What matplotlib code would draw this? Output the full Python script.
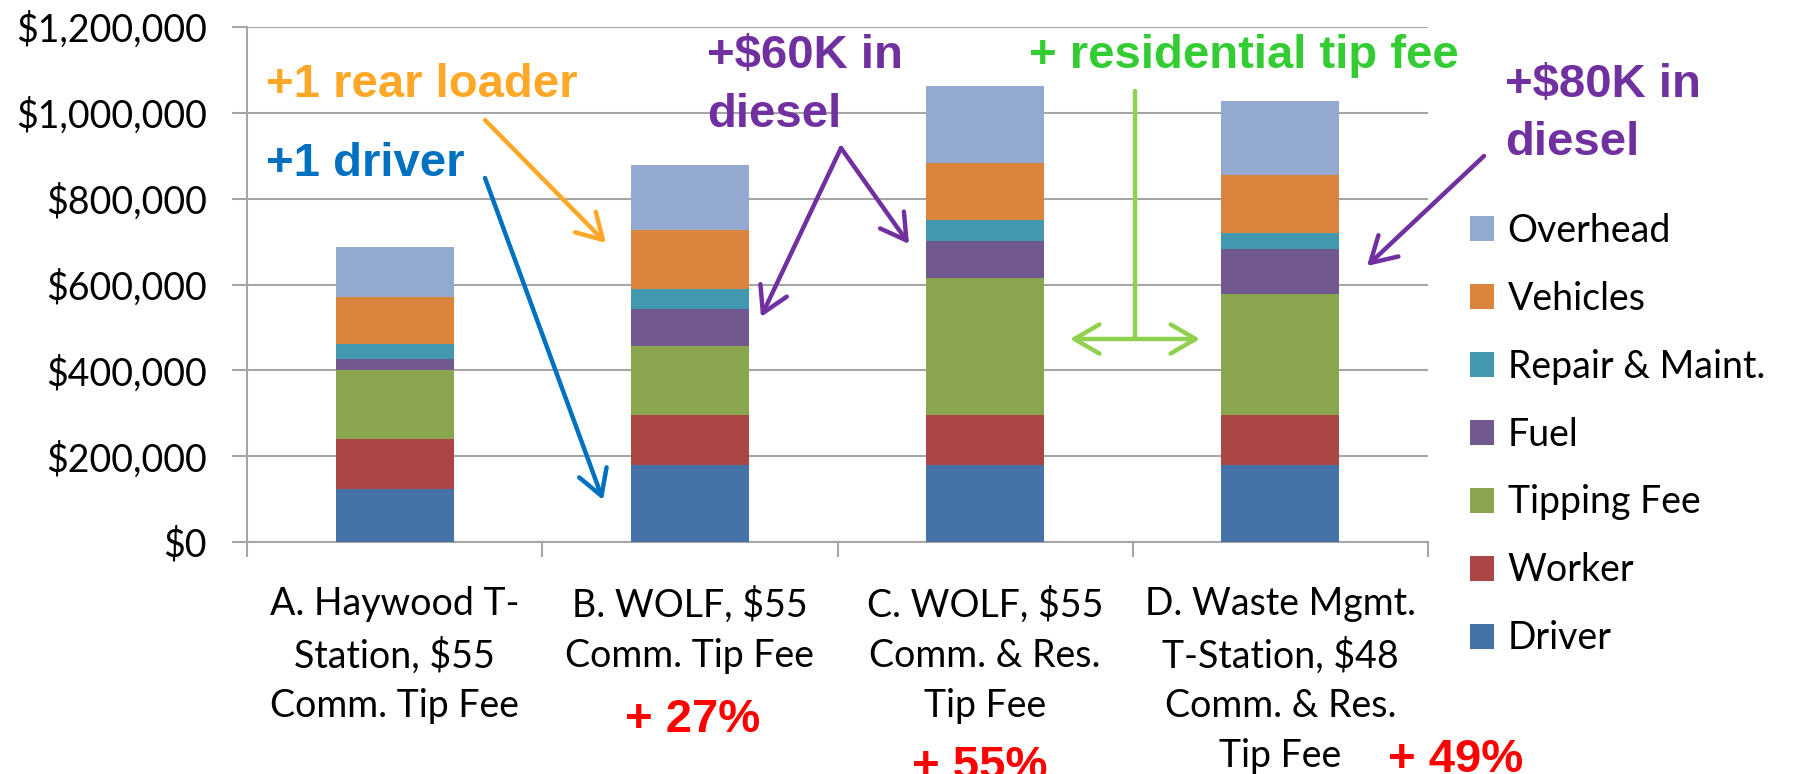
import matplotlib.pyplot as plt
from matplotlib.ticker import FuncFormatter

# %%
categories = ["A. Haywood T-\nStation, $55\nComm. Tip Fee",
              "B. WOLF, $55\nComm. Tip Fee",
              "C. WOLF, $55\nComm. & Res.\nTip Fee",
              "D. Waste Mgmt.\nT-Station, $48\nComm. & Res.\nTip Fee"]

driver = [123000, 180000, 180000, 180000]
worker = [117000, 116000, 116000, 116000]
tipping_fee = [161000, 161000, 320000, 281000]
fuel = [26000, 87000, 85000, 105000]
repair = [34000, 46000, 49000, 38000]
vehicles = [109000, 136000, 134000, 135000]
overhead = [117000, 152000, 179000, 172000]

series_names = ["Driver", "Worker", "Tipping Fee", "Fuel",
                "Repair & Maint.", "Vehicles", "Overhead"]
series_colors = ["#4572A7", "#AA4643", "#89A54E", "#71588F",
                 "#4198AF", "#DB843D", "#93A9CF"]

increase_labels = ["+ 27%", "+ 55%", "+ 49%"]

# %%
W, H = 1801, 774


def fpx(x, y):
    # pixel (from top-left) -> figure fraction
    return (x / W, 1 - y / H)


plt.rcParams['font.family'] = ['Lato', 'DejaVu Sans']
fig = plt.figure(figsize=(W / 100, H / 100), dpi=100)
ax = fig.add_axes([247 / W, 1 - 542 / H, (1428 - 247) / W, (542 - 27) / H])

values = [driver, worker, tipping_fee, fuel, repair, vehicles, overhead]
x = range(len(categories))
bottom = [0] * len(categories)
bars = []
for name, vals, col in zip(series_names, values, series_colors):
    b = ax.bar(x, vals, 0.4, bottom=bottom, color=col, label=name, zorder=3)
    bars.append(b)
    bottom = [a + v for a, v in zip(bottom, vals)]

ax.set_xlim(-0.5, 3.5)
ax.set_ylim(0, 1200000)
ax.set_yticks(range(0, 1200001, 200000))
ax.yaxis.set_major_formatter(FuncFormatter(lambda v, p: f"${v:,.0f}"))
ax.grid(axis='y', color='#A6A6A6', lw=1.5, zorder=0)
for s in ['top', 'right']:
    ax.spines[s].set_visible(False)
for s in ['left', 'bottom']:
    ax.spines[s].set_color('#A6A6A6')
    ax.spines[s].set_linewidth(1.5)

ax.tick_params(axis='y', length=11, width=1.5, color='#A6A6A6', pad=18, labelsize=27)
ax.set_xticks(list(x))
ax.set_xticklabels(categories, linespacing=1.48)
ax.tick_params(axis='x', which='major', length=0, pad=32, labelsize=27)
ax.set_xticks([-0.5, 0.5, 1.5, 2.5, 3.5], minor=True)
ax.tick_params(axis='x', which='minor', length=11, width=1.5, color='#A6A6A6')

fig.legend(handles=bars[::-1], loc='upper left', bbox_to_anchor=fpx(1470, 213),
           frameon=False, fontsize=27, handlelength=0.65, handleheight=0.65,
           handletextpad=0.35, labelspacing=0.85, borderpad=0, borderaxespad=0)

# %% annotations
bold = dict(family=['Liberation Sans', 'DejaVu Sans'], fontweight='bold', fontsize=34)
orange, blue, purple = '#FFA726', '#0070C0', '#7030A0'
green_txt, green_arr, red = '#33CC33', '#92D050', '#FF0000'

fig.text(*fpx(266, 97), "+1 rear loader", color=orange, **bold)
fig.text(*fpx(266, 176), "+1 driver", color=blue, **bold)
fig.text(*fpx(707, 68), "+$60K in", color=purple, **bold)
fig.text(*fpx(707, 127), "diesel", color=purple, **bold)
fig.text(*fpx(1029, 68), "+ residential tip fee", color=green_txt, **bold)
fig.text(*fpx(1505, 97), "+$80K in", color=purple, **bold)
fig.text(*fpx(1505, 155), "diesel", color=purple, **bold)

pct_pos = [(693, 732), (980, 779), (1456, 772)]
for lab, (px_, py_) in zip(increase_labels, pct_pos):
    fig.text(*fpx(px_, py_), lab, color=red, ha='center', **bold)


def arrow(start, tip, color, style='->'):
    ax.annotate('', xy=fpx(*tip), xytext=fpx(*start), xycoords='figure fraction',
                textcoords='figure fraction', annotation_clip=False,
                arrowprops=dict(arrowstyle=style + ',head_length=0.6,head_width=0.35',
                                lw=3.2, color=color, mutation_scale=30,
                                shrinkA=0, shrinkB=0))


arrow((485, 120), (606, 243), orange)
arrow((485, 178), (603, 500), blue)
arrow((841, 148), (761, 317), purple)
arrow((841, 148), (909, 244), purple)
arrow((1484, 156), (1367, 266), purple)
ax.annotate('', xy=fpx(1135, 339), xytext=fpx(1135, 91), xycoords='figure fraction',
            textcoords='figure fraction', annotation_clip=False,
            arrowprops=dict(arrowstyle='-', lw=3.2, color=green_arr, shrinkA=0, shrinkB=0))
arrow((1070, 339), (1200, 339), green_arr, style='<->')

fig.savefig('out.png', dpi=100)
